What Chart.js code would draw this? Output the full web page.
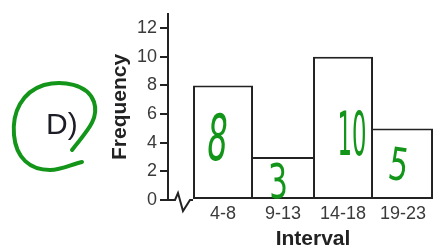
<!DOCTYPE html>
<html>
<head>
<meta charset="utf-8">
<script src="https://cdn.jsdelivr.net/npm/chart.js@4/dist/chart.umd.min.js"></script>
<style>
  html, body { margin: 0; padding: 0; background: #fff; }
  #wrap { width: 435px; height: 252px; position: relative; }
</style>
</head>
<body>
<div id="wrap"><canvas id="histo"></canvas></div>
<script>
// data
const intervals = ['4-8', '9-13', '14-18', '19-23'];
const frequencies = [8, 3, 10, 5];
const binCenters = [1, 2, 3, 4];
const freqTicks = [0, 1, 2, 3, 4, 5, 6, 7, 8, 9, 10, 11, 12];
const scribbles = ['8', '3', '10', '5'];

// where the green handwriting sits (data space) and how it looks
const scribbleStyle = [
  { x: 0.90, y: 3.95, size: 64, sx: 0.50, rot: 0.10 },
  { x: 1.92, y: 1.00, size: 48, sx: 0.62, rot: -0.05 },
  { x: 3.15, y: 4.20, size: 60, sx: 0.38, rot: 0.0 },
  { x: 3.92, y: 2.20, size: 45, sx: 0.68, rot: 0.15 }
];
const green = '#13951a';
const ink = '#222';

function sideBorders(ctx) {
  const i = ctx.dataIndex;
  const v = frequencies[i];
  const prev = i > 0 ? frequencies[i - 1] : -1;
  const next = i < frequencies.length - 1 ? frequencies[i + 1] : -1;
  return { top: 2, bottom: 2, left: v >= prev ? 2 : 0, right: v > next ? 2 : 0 };
}

const extras = {
  id: 'extras',
  afterDatasetsDraw(chart) {
    const c = chart.ctx;
    const xs = chart.scales.x, ys = chart.scales.y;
    const x0 = chart.chartArea.left, y0 = ys.getPixelForValue(0);
    const xb = xs.getPixelForValue(0.5);

    // broken baseline
    c.save();
    c.strokeStyle = ink;
    c.lineWidth = 2;
    c.lineJoin = 'miter';
    c.beginPath();
    c.moveTo(x0, y0);
    c.lineTo(x0 + 7, y0);
    c.lineTo(x0 + 10, y0 - 7);
    c.lineTo(x0 + 15, y0 + 11);
    c.lineTo(x0 + 22, y0);
    c.lineTo(xb, y0);
    c.stroke();

    // x title
    c.fillStyle = ink;
    c.font = 'bold 21px "Liberation Sans", Arial, sans-serif';
    c.textAlign = 'center';
    c.textBaseline = 'alphabetic';
    c.fillText('Interval', xs.getPixelForValue(2.5), 245);

    // question label
    c.fillStyle = '#1d1d28';
    c.font = '30px "Liberation Sans", Arial, sans-serif';
    c.textAlign = 'left';
    c.fillText('D)', 46, 134);

    // green loop round the label
    c.strokeStyle = green;
    c.lineWidth = 4;
    c.lineCap = 'round';
    c.lineJoin = 'round';
    c.beginPath();
    c.moveTo(72, 150);
    c.bezierCurveTo(84, 134, 100, 120, 94, 102);
    c.bezierCurveTo(88, 84, 62, 80, 44, 85);
    c.bezierCurveTo(22, 92, 12, 112, 14, 135);
    c.bezierCurveTo(16, 158, 30, 170, 50, 170);
    c.bezierCurveTo(62, 170, 72, 164, 82, 162);
    c.stroke();

    // green handwriting on the bars
    c.fillStyle = green;
    c.textAlign = 'center';
    c.textBaseline = 'middle';
    scribbles.forEach((t, i) => {
      const s = scribbleStyle[i];
      c.save();
      c.translate(xs.getPixelForValue(s.x), ys.getPixelForValue(s.y));
      c.rotate(s.rot);
      c.scale(s.sx, 1);
      c.font = s.size + 'px "DejaVu Sans", sans-serif';
      c.fillText(t, 0, 0);
      c.restore();
    });
    c.restore();
  }
};

new Chart(document.getElementById('histo'), {
  type: 'bar',
  data: {
    datasets: [{
      data: frequencies.map((f, i) => ({ x: binCenters[i], y: f })),
      backgroundColor: '#fff',
      borderColor: ink,
      borderWidth: sideBorders,
      borderSkipped: false,
      inflateAmount: 0,
      barPercentage: 1,
      categoryPercentage: 1
    }]
  },
  options: {
    responsive: true,
    maintainAspectRatio: false,
    devicePixelRatio: 1,
    animation: false,
    layout: { padding: { top: 5, right: 0, bottom: 0, left: 0 } },
    plugins: { legend: { display: false }, tooltip: { enabled: false } },
    scales: {
      x: {
        type: 'linear',
        min: 0.083,
        max: 4.533,
        offset: false,
        afterBuildTicks: s => { s.ticks = binCenters.map(v => ({ value: v })); },
        afterFit: s => { s.height = 52; },
        grid: { display: false, drawTicks: false },
        border: { display: false },
        ticks: {
          padding: 3,
          color: '#3a3a3a',
          font: { family: '"Liberation Sans", Arial, sans-serif', size: 18 },
          callback: (v, i) => intervals[i]
        }
      },
      y: {
        min: 0,
        max: 13,
        afterBuildTicks: s => { s.ticks = freqTicks.map(v => ({ value: v })); },
        afterFit: s => { s.width = 168; },
        grid: { drawOnChartArea: false, drawTicks: true, tickLength: 8, color: ink, lineWidth: 2 },
        border: { display: true, color: ink, width: 2 },
        ticks: {
          padding: 3,
          color: '#3a3a3a',
          font: { family: '"Liberation Sans", Arial, sans-serif', size: 18 },
          callback: v => (v % 2 === 0 ? v : '')
        },
        title: {
          display: true,
          text: 'Frequency',
          color: ink,
          font: { family: '"Liberation Sans", Arial, sans-serif', size: 21, weight: 'bold' },
          padding: { top: 108, bottom: 0 }
        }
      }
    }
  },
  plugins: [extras]
});
</script>
</body>
</html>
